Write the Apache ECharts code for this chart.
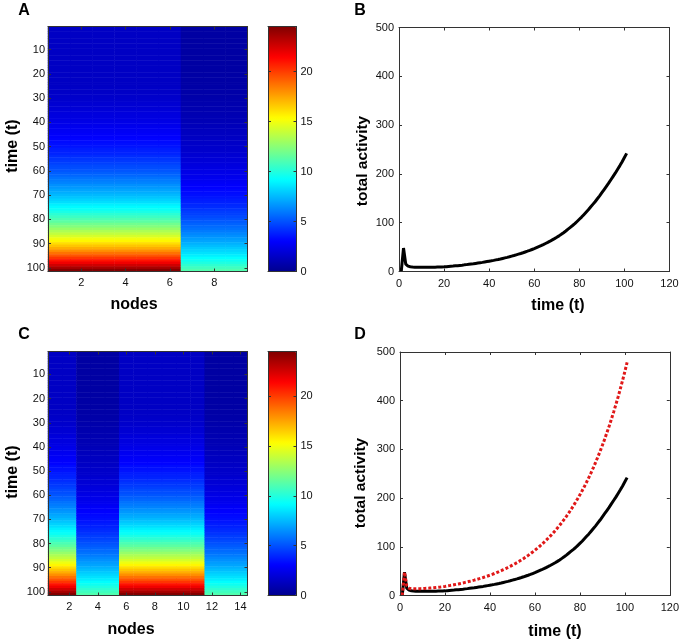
<!DOCTYPE html>
<html><head><meta charset="utf-8">
<script src="https://cdn.jsdelivr.net/npm/echarts@6/dist/echarts.min.js"></script>
<style>html,body{margin:0;padding:0;background:#fff}#c{width:682px;height:642px}</style>
</head><body><div id="c"></div>
<script>
// ---------- data ----------
const timeSteps = Array.from({length: 101}, (_, i) => i + 1);
const timeCategories = timeSteps.map(String);
const nodesA = ['1','2','3','4','5','6','7','8','9'];
const nodesC = ['1','2','3','4','5','6','7','8','9','10','11','12','13','14'];
const highNodesA = [1,2,3,4,5,6];
const highNodesC = [1,2,6,7,8,9,10,11];

// activity of a strongly driven node over time (t = 1..101)
const highNodeActivity = [
 1.45,1.45,1.45,1.45,1.45,1.45,1.45,1.45,1.45,1.45,
 1.45,1.45,1.45,1.45,1.45,1.45,1.45,1.45,1.45,1.45,
 1.45,1.45,1.45,1.45,1.45,
 1.5,1.5,1.55,1.6,1.65,
 1.7,1.8,1.85,1.9,2.0,
 2.1,2.15,2.2,2.3,2.4,
 2.5,2.6,2.7,2.8,2.9,
 3.0,3.1,3.3,3.4,3.5,
 3.7,3.8,3.9,4.1,4.3,
 4.4,4.6,4.8,4.9,5.1,
 5.3,5.5,5.8,6.0,6.2,
 6.5,6.7,7.0,7.2,7.5,
 7.8,8.1,8.4,8.8,9.1,
 9.4,9.8,10.2,10.6,11.0,
 11.4,11.9,12.3,12.8,13.3,
 13.8,14.3,14.9,15.5,16.1,
 16.7,17.3,18.0,18.7,19.4,
 20.2,21.0,21.8,22.6,23.5,
 24.4
];
// activity of a weakly driven node over time (t = 1..101)
const lowNodeActivity = [
 0.55,0.55,0.55,0.55,0.55,0.55,0.55,0.55,0.55,0.55,
 0.55,0.55,0.55,0.56,0.56,0.56,0.57,0.57,0.58,0.58,
 0.59,0.6,0.6,0.61,0.62,
 0.64,0.67,0.69,0.72,0.75,
 0.78,0.81,0.84,0.87,0.91,
 0.94,0.97,1.0,1.05,1.1,
 1.15,1.2,1.25,1.3,1.35,
 1.4,1.45,1.5,1.55,1.6,
 1.65,1.7,1.8,1.85,1.95,
 2.0,2.1,2.15,2.25,2.35,
 2.45,2.5,2.6,2.7,2.85,
 2.95,3.05,3.2,3.3,3.4,
 3.55,3.7,3.8,4.0,4.1,
 4.3,4.5,4.6,4.8,5.0,
 5.2,5.4,5.6,5.8,6.0,
 6.3,6.5,6.8,7.0,7.3,
 7.6,7.9,8.2,8.5,8.8,
 9.2,9.5,9.9,10.3,10.7,
 11.1
];
// total activity, network 1 (black)
const totalActivity1 = [
 0,48,15,11,9.8,9.2,8.8,8.6,8.5,8.5,
 8.5,8.5,8.6,8.7,8.8,8.9,9.0,9.1,9.3,9.5,
 9.9,10.3,10.7,11.1,11.6,12.0,12.5,13.0,13.6,14.1,
 14.7,15.3,15.9,16.6,17.3,18.0,18.7,19.5,20.3,21.1,
 21.9,22.8,23.8,24.7,25.7,26.8,27.9,29.0,30.2,31.5,
 32.7,34.1,35.5,36.9,38.4,40.0,41.6,43.3,45.1,46.9,
 48.9,50.9,52.9,55.1,57.4,59.7,62.1,64.7,67.3,70.1,
 73.0,76.2,79.5,83.0,86.8,90.5,94.2,98.0,102.5,107.0,
 111.5,116.5,121.5,126.5,132.0,137.5,143.0,149.0,155.0,161.5,
 168.0,174.5,181.0,188.0,195.0,202.0,209.5,217.0,225.0,233.5,
 242.0
];
// total activity, network 2 (red dotted)
const totalActivity2 = [
 0,48,20,15,14,13.8,13.8,13.9,14.1,14.3,
 14.6,14.9,15.2,15.6,16.0,16.5,17.0,17.5,18.1,18.7,
 19.5,20.3,21.1,22.0,22.9,23.8,24.8,25.8,26.9,28.0,
 29.1,30.3,31.5,32.8,34.2,35.6,37.0,38.5,40.1,41.7,
 43.4,45.2,47.1,49.0,51.0,53.1,55.2,57.5,59.8,62.3,
 64.8,67.5,70.2,73.1,76.1,79.2,82.4,85.8,89.3,92.9,
 96.7,100.6,104.7,109.0,113.5,118.1,122.9,127.9,133.1,138.6,
 144.2,150.1,156.2,162.6,169.2,176.1,183.3,190.8,198.6,206.7,
 215.1,223.9,233.0,242.5,252.4,262.7,273.4,284.6,296.2,308.3,
 320.9,334.0,347.6,361.8,376.6,391.9,407.9,424.6,441.9,459.9,
 478.7
];
const timeTickLabels = ['10','20','30','40','50','60','70','80','90','100'];
const nodeTickLabelsA = ['2','4','6','8'];
const nodeTickLabelsC = ['2','4','6','8','10','12','14'];
const colorMax = 24.5;

// ---------- build ----------
const FONT = '"Liberation Sans", Arial, sans-serif';
const AXC = '#333';
const jet = ['#00008f','#0000ff','#0080ff','#00ffff','#80ff80','#ffff00','#ff8000','#ff0000','#800000'];

function heatData(nodes, highNodes) {
  const d = [];
  nodes.forEach((n, i) => {
    const src = highNodes.includes(i + 1) ? highNodeActivity : lowNodeActivity;
    timeSteps.forEach((t, j) => d.push([i, j, src[j]]));
  });
  return d;
}
const lbl = (extra) => Object.assign({fontFamily: FONT, fontSize: 11, color: '#111'}, extra);
const line = {show: true, onZero: false, lineStyle: {color: AXC, width: 1}};

function catX(grid, data, ticks, pos) {
  const f = (i, v) => ticks.includes(v);
  return {type: 'category', gridIndex: grid, data, position: pos, z: 5,
    axisLine: line, splitLine: {show: false},
    axisTick: {show: true, inside: true, length: 3, alignWithLabel: true, interval: f, lineStyle: {color: AXC}},
    axisLabel: pos === 'bottom' ? lbl({interval: f, margin: 6}) : {show: false}};
}
function catY(grid, pos) {
  const f = (i, v) => timeTickLabels.includes(v);
  return {type: 'category', gridIndex: grid, data: timeCategories, inverse: true, position: pos, z: 5,
    axisLine: line, splitLine: {show: false},
    axisTick: {show: true, inside: true, length: 3, alignWithLabel: true, interval: f, lineStyle: {color: AXC}},
    axisLabel: pos === 'left' ? lbl({interval: f, margin: 3}) : {show: false}};
}
function valAxis(grid, pos, min, max, interval, labelPos, margin, ticks) {
  return {type: 'value', gridIndex: grid, position: pos, min, max, interval, z: 5,
    axisLine: line, splitLine: {show: false},
    axisTick: {show: ticks, inside: true, length: 3, lineStyle: {color: AXC}},
    axisLabel: pos === labelPos ? lbl({margin, showMaxLabel: max % interval === 0}) : {show: false}};
}

const gA = {left: 48, top: 26.5, width: 199.5, height: 245};
const gAcb = {left: 268, top: 26.5, width: 28.5, height: 245};
const gB = {left: 399, top: 27.5, width: 270.5, height: 244};
const gC = {left: 48, top: 351.5, width: 199.5, height: 244};
const gCcb = {left: 268, top: 351.5, width: 28.5, height: 244};
const gD = {left: 400, top: 352, width: 270.5, height: 243.5};

const xAxis = [
  catX(0, nodesA, nodeTickLabelsA, 'bottom'), catX(0, nodesA, nodeTickLabelsA, 'top'),
  valAxis(1, 'bottom', 0, 1, 1, 'none', 0, false), valAxis(1, 'top', 0, 1, 1, 'none', 0, false),
  valAxis(2, 'bottom', 0, 120, 20, 'bottom', 7, true), valAxis(2, 'top', 0, 120, 20, 'bottom', 7, true),
  catX(3, nodesC, nodeTickLabelsC, 'bottom'), catX(3, nodesC, nodeTickLabelsC, 'top'),
  valAxis(4, 'bottom', 0, 1, 1, 'none', 0, false), valAxis(4, 'top', 0, 1, 1, 'none', 0, false),
  valAxis(5, 'bottom', 0, 120, 20, 'bottom', 7, true), valAxis(5, 'top', 0, 120, 20, 'bottom', 7, true)
];
const yAxis = [
  catY(0, 'left'), catY(0, 'right'),
  valAxis(1, 'right', 0, colorMax, 5, 'right', 4, true), valAxis(1, 'left', 0, colorMax, 5, 'right', 4, true),
  valAxis(2, 'left', 0, 500, 100, 'left', 5, true), valAxis(2, 'right', 0, 500, 100, 'left', 5, true),
  catY(3, 'left'), catY(3, 'right'),
  valAxis(4, 'right', 0, colorMax, 5, 'right', 4, true), valAxis(4, 'left', 0, colorMax, 5, 'right', 4, true),
  valAxis(5, 'left', 0, 500, 100, 'left', 5, true), valAxis(5, 'right', 0, 500, 100, 'left', 5, true)
];

const vm = (si, g) => ({type: 'continuous', seriesIndex: si, min: 0, max: colorMax, calculable: false,
  hoverLink: false, orient: 'vertical', left: g.left, top: g.top, itemWidth: g.width, itemHeight: g.height,
  padding: 0, inRange: {color: jet}, textStyle: {fontSize: 0}});

const txt = (text, x, y, size, rot) => ({type: 'text', x, y, rotation: rot ? Math.PI / 2 : 0, silent: true,
  style: {text, font: 'bold ' + size + 'px ' + FONT, fill: '#000', align: 'center', verticalAlign: 'middle'}});

const lineSeries = (xi, vals, color, width, dash) => ({type: 'line', xAxisIndex: xi, yAxisIndex: xi,
  data: timeSteps.map((t, i) => [t, vals[i]]), showSymbol: false, silent: true, z: 3,
  lineStyle: {color, width, type: dash || 'solid', cap: 'butt'}});

const option = {
  animation: false,
  grid: [gA, gAcb, gB, gC, gCcb, gD],
  xAxis, yAxis,
  visualMap: [vm(0, gAcb), vm(2, gCcb)],
  series: [
    {type: 'heatmap', xAxisIndex: 0, yAxisIndex: 0, data: heatData(nodesA, highNodesA), progressive: 0, silent: true},
    lineSeries(4, totalActivity1, '#000', 3),
    {type: 'heatmap', xAxisIndex: 6, yAxisIndex: 6, data: heatData(nodesC, highNodesC), progressive: 0, silent: true},
    lineSeries(10, totalActivity1, '#000', 3),
    lineSeries(10, totalActivity2, '#e01818', 3, [3, 2])
  ],
  graphic: [
    txt('A', 24, 11, 16), txt('B', 360, 11, 16), txt('C', 24, 335, 16), txt('D', 360, 335, 16),
    txt('time (t)', 12.5, 146, 16, true), txt('nodes', 134, 305, 16),
    txt('total activity', 363, 161, 15.5, true), txt('time (t)', 558, 306, 16),
    txt('time (t)', 12.5, 472, 16, true), txt('nodes', 131, 630, 16),
    txt('total activity', 361, 483, 15.5, true), txt('time (t)', 555, 632, 16)
  ]
};
const chart = echarts.init(document.getElementById('c'), null, {renderer: 'canvas'});
chart.setOption(option);
</script>
</body></html>
